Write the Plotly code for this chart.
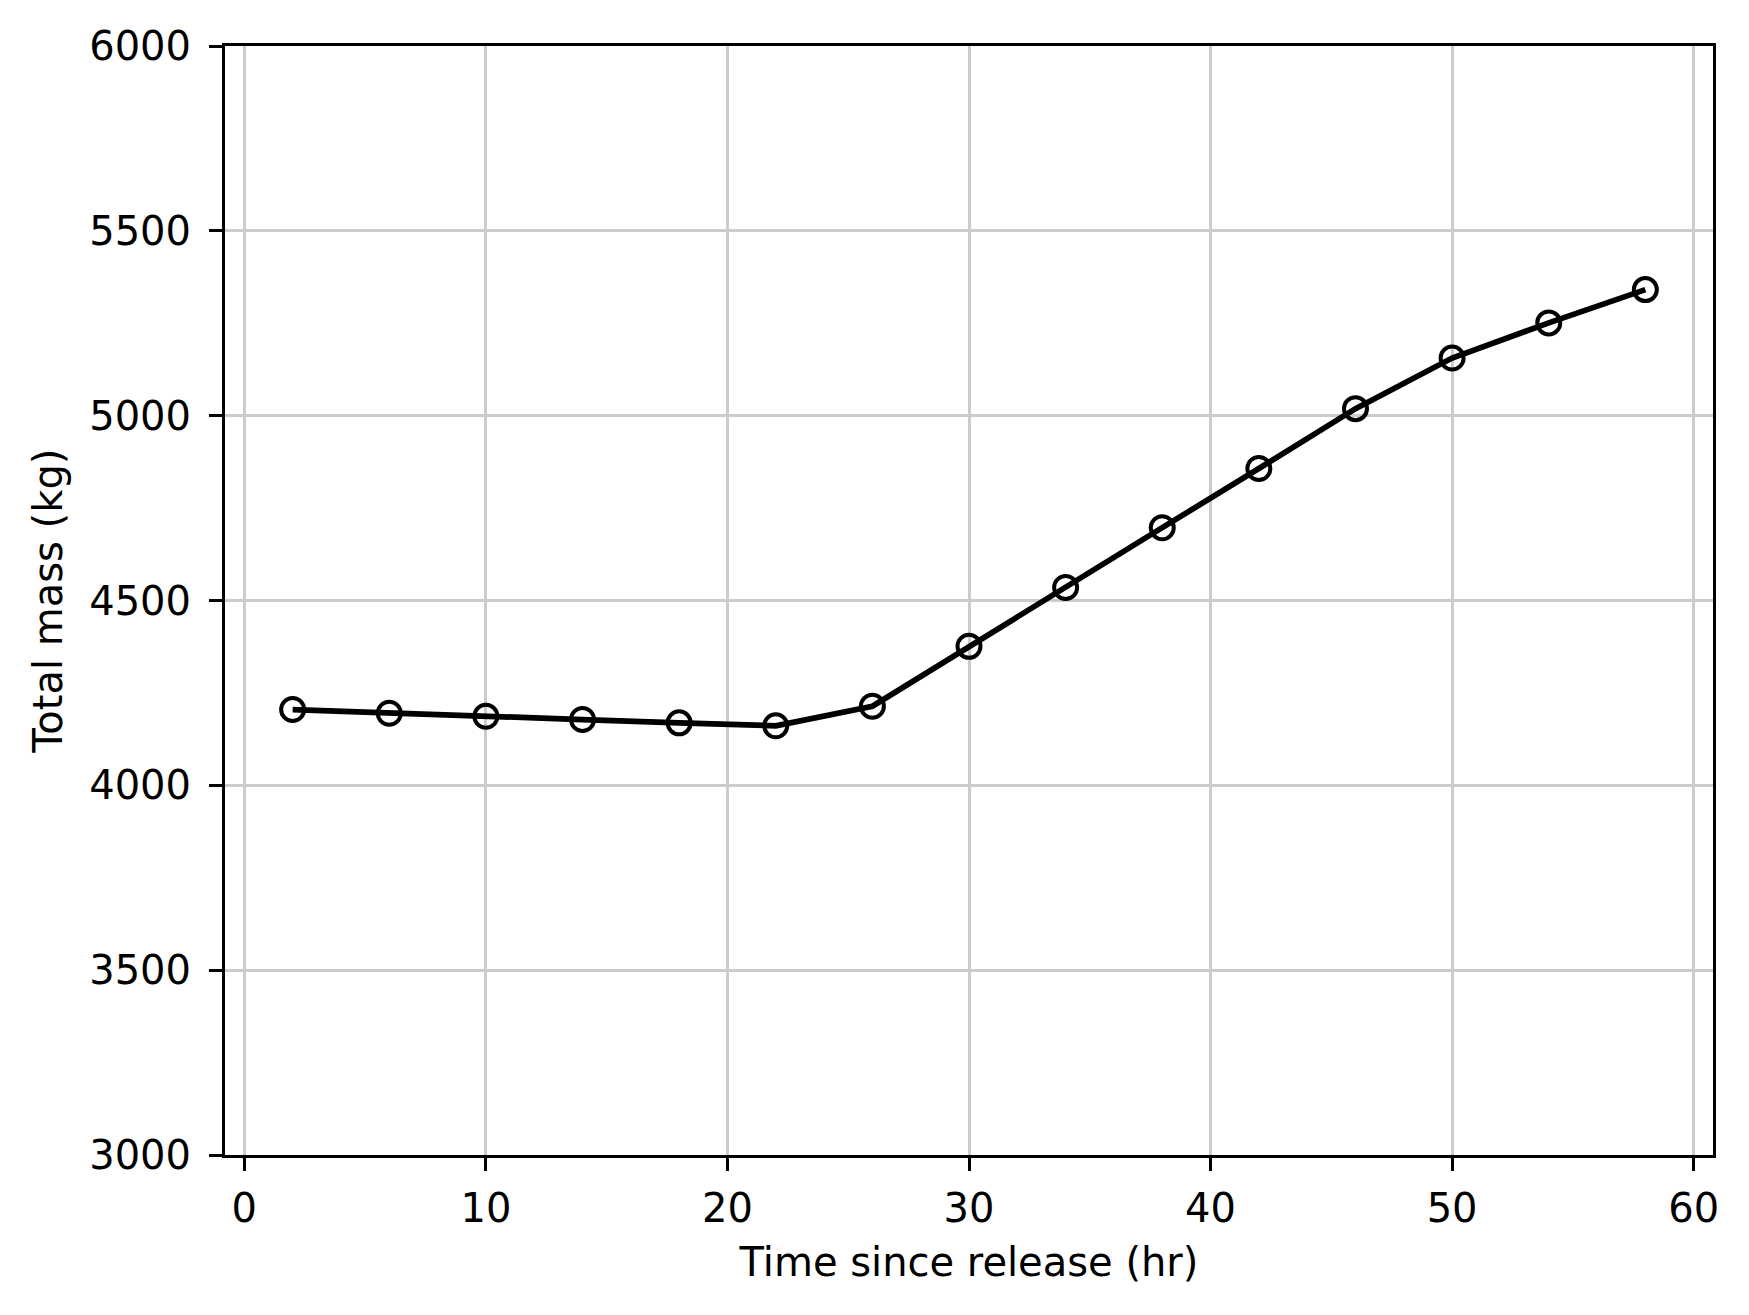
import plotly.graph_objects as go

time_hr = [2, 6, 10, 14, 18, 22, 26, 30, 34, 38, 42, 46, 50, 54, 58]
total_mass_kg = [4205, 4195, 4187, 4178, 4169, 4161, 4214, 4376, 4535, 4697, 4857, 5019, 5156, 5251, 5341]

x_ticks = [0, 10, 20, 30, 40, 50, 60]
y_ticks = [3000, 3500, 4000, 4500, 5000, 5500, 6000]

fig = go.Figure()
fig.add_trace(go.Scatter(
    x=time_hr, y=total_mass_kg, mode="lines+markers",
    line=dict(color="black", width=5.7),
    marker=dict(symbol="circle-open", size=23, color="black", line=dict(width=4, color="black")),
    showlegend=False,
))

axis_common = dict(
    showline=True, linecolor="black", linewidth=3, mirror=True,
    ticks="outside", ticklen=13, tickwidth=3, tickcolor="black",
    showgrid=True, gridcolor="#cccccc", gridwidth=3,
    zeroline=False,
    tickfont=dict(family="DejaVu Sans", size=40, color="black"),
    title_font=dict(family="DejaVu Sans", size=40, color="black"),
)

fig.update_xaxes(range=[-0.8, 60.8], tickvals=x_ticks, title_text="Time since release (hr)",
                 title_standoff=18, ticklabelstandoff=3, **axis_common)
fig.update_yaxes(range=[3000, 6000], tickvals=y_ticks, title_text="Total mass (kg)",
                 title_standoff=15, ticklabelstandoff=10, **axis_common)

fig.update_layout(
    width=1733, height=1299,
    margin=dict(l=217, r=28, t=38, b=152, autoexpand=False),
    plot_bgcolor="white", paper_bgcolor="white",
    font=dict(family="DejaVu Sans", color="black"),
)

fig.write_html("out.html")
